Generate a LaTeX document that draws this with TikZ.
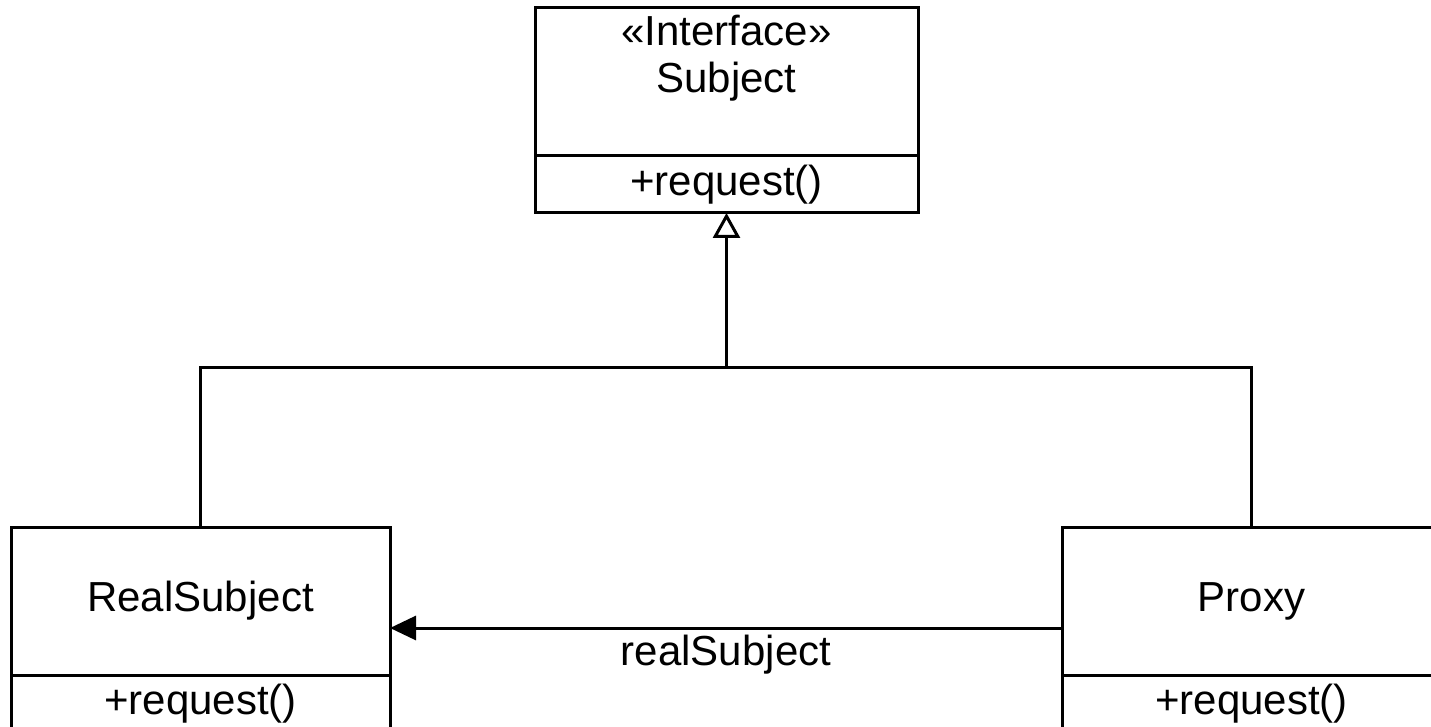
\documentclass[tikz,border=0pt]{standalone}
\usepackage{fontspec}
\setmainfont{Liberation Sans}
\usetikzlibrary{
  positioning,
  arrows.meta
}
\newcommand{\umlfont}{\fontsize{42}{47}\selectfont}
\tikzset{
  compart/.style={draw, line width=3pt, outer sep=0pt, inner sep=0pt, font=\umlfont},
  namepart/.style={compart, minimum width=#1, minimum height=148pt},
  opspart/.style={compart, minimum width=#1, minimum height=57pt},
  umltext/.style={font=\umlfont, inner sep=2pt, align=center}
}

\begin{document}
\begin{tikzpicture}[x=1pt,y=-1pt,line width=3pt,>={Triangle[length=26pt,width=24pt]}]
            \useasboundingbox (0,0) rectangle (1431,727);
            \clip (0,0) rectangle (1431,727);
            % interface on top
            \node[namepart=383pt] (subject) at (726.5,82) {};
            \node[umltext] (subjectname) at (726.5,58) {«Interface»\\Subject};
            \node[opspart=383pt, below=0pt of subject] (subjectops) {+request()};
            % the two implementations
            \node[namepart=379pt] (realsubject) at (200.5,601) {RealSubject};
            \node[opspart=379pt, below=0pt of realsubject] (realops) {+request()};
            \node[namepart=379pt] (proxy) at (1251.5,601) {Proxy};
            \node[opspart=379pt, below=0pt of proxy] (proxyops) {+request()};
            % realization
            \coordinate (fork) at ([yshift=-154pt]subjectops.south);
            \draw (realsubject.north) |- (fork) -| (proxy.north);
            \draw[-{Triangle[open,length=25pt,width=27pt]}] (fork) -- (subjectops.south);
            % association
            \draw[->] ([yshift=-27pt]proxy.west) -- node[umltext, below=4pt] (rolename) {realSubject} ([yshift=-27pt]realsubject.east);
        \end{tikzpicture}
\end{document}
